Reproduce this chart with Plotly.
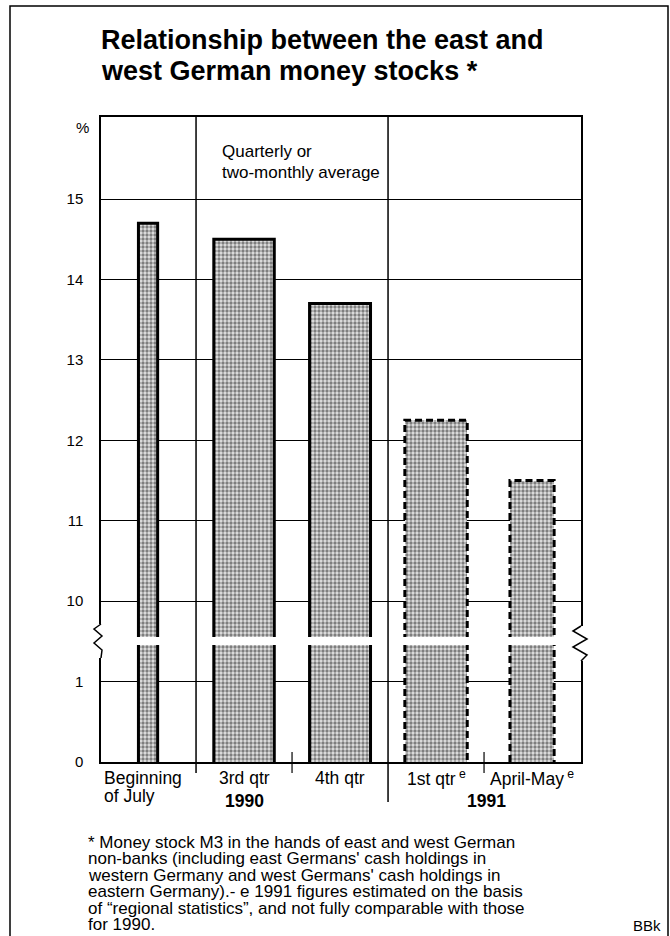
import plotly.graph_objects as go

# ---------------- data ----------------
categories = ["Beginning of July", "3rd qtr", "4th qtr", "1st qtr", "April-May"]
values = [14.7, 14.5, 13.7, 12.25, 11.5]          # % (east / west money stock)
estimated = [False, False, False, True, True]      # 1991 figures estimated
year_labels = ["1990", "1991"]
tick_values = [0, 1, 10, 11, 12, 13, 14, 15]

title_lines = ["Relationship between the east and", "west German money stocks *"]
note_lines = ["Quarterly or", "two-monthly average"]
footnote_lines = [
    "* Money stock M3 in the hands of east and west German",
    "non-banks (including east Germans' cash holdings in",
    "western Germany and west Germans' cash holdings in",
    "eastern Germany).- e 1991 figures estimated on the basis",
    "of \u201cregional statistics\u201d, and not fully comparable with those",
    "for 1990.",
]

# ---------------- style ----------------
bar_widths = [0.2, 0.63, 0.635, 0.65, 0.46]
FONT = "Liberation Sans, Arial, Helvetica, sans-serif"
W, H = 670, 936
L, R, T, B = 101, 581, 117, 762          # plot area in pixels
PW, PH = R - L, B - T


def axis_pos(v):
    """broken axis: 0..1 linear, then 10.. continues one unit above 1"""
    return v if v <= 1 else v - 8


def px(xp):
    return (xp - L) / PW


def py(yp):
    return (B - yp) / PH


xs = list(range(len(categories)))
ys = [axis_pos(v) for v in values]

fig = go.Figure()
fig.add_trace(go.Bar(
    x=xs, y=ys, width=bar_widths,
    marker=dict(color="#e2e2e2",
                line=dict(width=0),
                pattern=dict(shape=".", fgcolor="#1a1a1a", bgcolor="#e2e2e2",
                             size=4, solidity=0.55)),
    hoverinfo="skip", showlegend=False,
))

# bar outlines (solid for 1990, dashed for estimated 1991)
for x, y, w, est in zip(xs, ys, bar_widths, estimated):
    fig.add_trace(go.Scatter(
        x=[x - w / 2, x - w / 2, x + w / 2, x + w / 2],
        y=[0, y, y, 0],
        mode="lines",
        line=dict(color="black", width=3, dash="7px,4px" if est else "solid"),
        hoverinfo="skip", showlegend=False,
    ))

shapes = []
# white band for the axis break
shapes.append(dict(type="rect", xref="paper", yref="paper",
                   x0=px(L - 4), x1=px(R + 4), y0=py(645), y1=py(637),
                   fillcolor="white", line=dict(width=0), layer="above"))
# blank axis lines where zigzags go
shapes.append(dict(type="rect", xref="paper", yref="paper",
                   x0=px(L - 3), x1=px(L + 3), y0=py(658), y1=py(624),
                   fillcolor="white", line=dict(width=0), layer="above"))
shapes.append(dict(type="rect", xref="paper", yref="paper",
                   x0=px(R - 3), x1=px(R + 3), y0=py(661), y1=py(626),
                   fillcolor="white", line=dict(width=0), layer="above"))


def path(points):
    s = "M " + " L ".join(f"{px(a):.5f},{py(b):.5f}" for a, b in points)
    return s


left_zz = [(L, 624), (94, 629), (102, 636), (94, 643), (102, 650), (L, 658)]
right_zz = [(R, 626), (573, 631), (587, 639), (573, 647), (587, 655), (R, 661)]
for pts in (left_zz, right_zz):
    shapes.append(dict(type="path", xref="paper", yref="paper", path=path(pts),
                       line=dict(color="black", width=1.5), layer="above"))

# dividers between groups (full height) and small ticks
for xd, ybot in ((0.5, 773), (2.5, 802)):
    shapes.append(dict(type="line", xref="x", yref="paper",
                       x0=xd, x1=xd, y0=py(ybot), y1=1,
                       line=dict(color="black", width=1.5), layer="above"))
for xd in (1.5, 3.5):
    shapes.append(dict(type="line", xref="x", yref="paper",
                       x0=xd, x1=xd, y0=py(773), y1=py(752),
                       line=dict(color="black", width=1.2), layer="above"))

# outer frame
shapes.append(dict(type="path", xref="paper", yref="paper",
                   path=path([(10, 960), (10, 6), (668, 6), (668, 960)]),
                   line=dict(color="black", width=1.5), layer="above"))

ann = []
# title
for i, t in enumerate(title_lines):
    ann.append(dict(text=f"<b>{t}</b>", xref="paper", yref="paper",
                    x=px(99), y=py(40 + 31 * i), xanchor="left", yanchor="middle",
                    showarrow=False, font=dict(size=27, color="black", family=FONT)))
# note
for i, t in enumerate(note_lines):
    ann.append(dict(text=t, xref="paper", yref="paper",
                    x=px(220), y=py(151 + 21 * i), xanchor="left", yanchor="middle",
                    showarrow=False, font=dict(size=17, color="black", family=FONT)))
# % unit
ann.append(dict(text="%", xref="paper", yref="paper", x=px(91), y=py(127),
                xanchor="right", yanchor="middle", showarrow=False,
                font=dict(size=15, color="black", family=FONT)))

# category labels
lab_font = dict(size=17.5, color="black", family=FONT)
first = categories[0].split(" of ")
ann.append(dict(text=first[0], xref="paper", yref="paper", x=px(102), y=py(778),
                xanchor="left", yanchor="middle", showarrow=False, font=lab_font))
ann.append(dict(text="of " + first[1], xref="paper", yref="paper", x=px(102), y=py(796),
                xanchor="left", yanchor="middle", showarrow=False, font=lab_font))
for x, c, est in zip(xs[1:], categories[1:], estimated[1:]):
    txt = c + ("<sup> e</sup>" if est else "")
    ann.append(dict(text=txt, xref="x", yref="paper", x=x, y=py(778),
                    xanchor="center", yanchor="middle", showarrow=False, font=lab_font))
for xc, yl in zip((1, 3.53), year_labels):
    ann.append(dict(text=f"<b>{yl}</b>", xref="x", yref="paper", x=xc, y=py(801),
                    xanchor="center", yanchor="middle", showarrow=False, font=lab_font))

# footnote
for i, t in enumerate(footnote_lines):
    ann.append(dict(text=t, xref="paper", yref="paper", x=px(86), y=py(842 + 16.5 * i),
                    xanchor="left", yanchor="middle", showarrow=False,
                    font=dict(size=17, color="black", family=FONT)))
ann.append(dict(text="BBk", xref="paper", yref="paper", x=px(663), y=py(925),
                xanchor="right", yanchor="middle", showarrow=False,
                font=dict(size=15, color="black", family=FONT)))

fig.update_layout(
    width=W, height=H,
    margin=dict(l=L, r=W - R, t=T, b=H - B, pad=0),
    paper_bgcolor="white", plot_bgcolor="white",
    showlegend=False, bargap=0,
    font=dict(family=FONT, color="black"),
    xaxis=dict(range=[-0.49, 4.51], showticklabels=False, showgrid=False,
               zeroline=False, showline=True, mirror=True, linecolor="black",
               linewidth=1.5, ticks="", fixedrange=True),
    yaxis=dict(range=[0, 8.02], tickvals=[axis_pos(t) for t in tick_values],
               ticktext=[str(t) for t in tick_values],
               showgrid=True, gridcolor="black", gridwidth=1, zeroline=False,
               showline=True, mirror=True, linecolor="black", linewidth=1.5,
               ticks="", ticklabelstandoff=13, tickfont=dict(size=15, family=FONT),
               fixedrange=True),
    shapes=shapes, annotations=ann,
)

fig.write_html("out.html", config={"displayModeBar": False},
               post_script="document.body.style.margin='0';document.body.style.padding='0';"
                           "document.body.style.overflow='hidden';")
